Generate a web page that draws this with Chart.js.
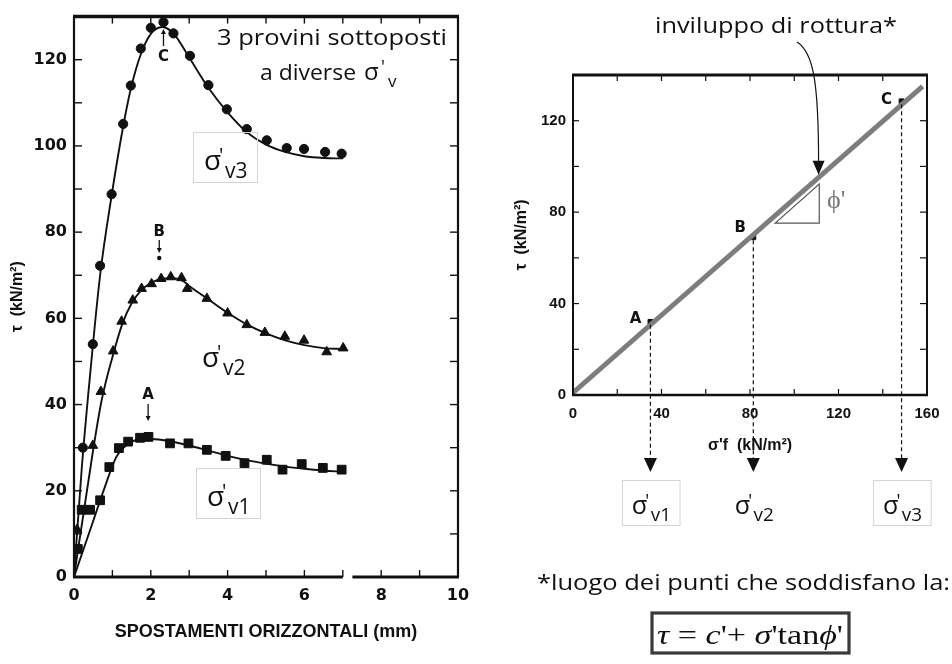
<!DOCTYPE html>
<html>
<head>
<meta charset="utf-8">
<script src="https://cdn.jsdelivr.net/npm/chart.js@4.4.1/dist/chart.umd.min.js"></script>
<style>
  html, body { margin: 0; padding: 0; background: #fff; }
  #wrap { position: relative; width: 952px; height: 664px; overflow: hidden; background: #fff; }
  canvas { position: absolute; top: 0; }
  #shearChart { left: 0; }
  #envChart { left: 480px; }
</style>
</head>
<body>
<div id="wrap">
  <canvas id="shearChart" width="480" height="664"></canvas>
  <canvas id="envChart" width="472" height="664"></canvas>
</div>
<script>
// ---- left chart: tau vs horizontal displacement (mm), three specimens ----
// measured points
const v3DispX = [0.23, 0.49, 0.68, 0.98, 1.28, 1.48, 1.74, 2.0, 2.33, 2.59, 3.02, 3.5, 3.98, 4.5, 5.02, 5.54, 5.99, 6.54, 6.97];
const v3Tau   = [30, 54, 72.2, 88.8, 105.1, 114, 122.6, 127.4, 128.7, 126.1, 120.9, 114.1, 108.5, 103.9, 101.3, 99.5, 99.3, 98.6, 98.2];
const v2DispX = [0.08, 0.49, 0.7, 1.02, 1.24, 1.53, 1.76, 2.02, 2.27, 2.52, 2.8, 2.95, 3.46, 4.0, 4.5, 4.97, 5.49, 5.99, 6.58, 7.01];
const v2Tau   = [11, 30.5, 43, 52.4, 59.3, 64.2, 66.9, 68, 69.2, 69.6, 69.4, 66.9, 64.6, 61.2, 58.5, 56.7, 55.8, 54.9, 52.2, 53.1];
const v1DispX = [0.1, 0.2, 0.42, 0.68, 0.92, 1.17, 1.41, 1.72, 1.94, 2.5, 2.98, 3.46, 3.95, 4.44, 5.02, 5.43, 5.93, 6.48, 6.97];
const v1Tau   = [6.5, 15.6, 15.6, 17.8, 25.5, 29.9, 31.4, 32.3, 32.5, 31, 31, 29.5, 28.1, 26.4, 27.2, 24.9, 26.2, 25.3, 24.9];
// fitted curves
const v3CurveX = [0, 0.2, 0.42, 0.68, 0.98, 1.28, 1.5, 1.75, 2.0, 2.3, 2.6, 3.0, 3.5, 4.0, 4.5, 5.0, 5.5, 6.0, 6.5, 7.0];
const v3CurveY = [0, 25, 47, 70, 88.5, 104.5, 114, 121.5, 126, 127.6, 126, 120.5, 113.5, 107.8, 103.2, 100.3, 98.6, 97.6, 97.2, 97.1];
const v2CurveX = [0, 0.49, 0.72, 1.0, 1.25, 1.5, 1.75, 2.0, 2.3, 2.6, 2.85, 3.0, 3.5, 4.0, 4.5, 5.0, 5.5, 6.0, 6.5, 7.0];
const v2CurveY = [0, 29, 41, 51, 58.5, 63.5, 66.5, 68.2, 69.2, 69.3, 68.6, 67.5, 64.4, 61.3, 58.6, 56.5, 54.9, 53.8, 53.1, 52.9];
const v1CurveX = [0, 0.5, 0.8, 1.1, 1.4, 1.7, 2.0, 2.5, 3.0, 3.5, 4.0, 4.5, 5.0, 5.5, 6.0, 6.5, 7.0];
const v1CurveY = [0, 13, 20.8, 27.8, 30.8, 31.9, 32, 31.5, 30.5, 29.3, 28.1, 27.1, 26.3, 25.6, 25.1, 24.7, 24.4];
const peakLabels = ['A', 'B', 'C'];
const peakDispX  = [1.93, 2.22, 2.33];

// ---- right chart: failure envelope ----
const envSigma = [0, 158];
const envTau   = [1, 135];
const peakSigma = [35, 81.5, 148.5];
const peakTau   = [32, 69, 128.5];

const ink = '#111';
const handFont = '"Open Sans", "DejaVu Sans", sans-serif';
const zip = (xs, ys) => xs.map((x, i) => ({ x, y: ys[i] }));

function seg(ctx, x1, y1, x2, y2) {
  ctx.beginPath(); ctx.moveTo(x1, y1); ctx.lineTo(x2, y2); ctx.stroke();
}
function tri(ctx, x, y, w, h) { // tip at x,y ; h>0 points down
  ctx.beginPath(); ctx.moveTo(x - w / 2, y - h); ctx.lineTo(x + w / 2, y - h); ctx.lineTo(x, y); ctx.closePath(); ctx.fill();
}
function fitText(ctx, text, x, y, width, font) {
  ctx.save();
  ctx.font = font;
  const w = ctx.measureText(text).width;
  ctx.translate(x, y);
  ctx.scale(width / w, 1);
  ctx.textAlign = 'left';
  ctx.textBaseline = 'alphabetic';
  ctx.fillText(text, 0, 0);
  ctx.restore();
}
// sigma' with subscript, optional light box
function sigmaLabel(ctx, left, top, sub, k, boxed) {
  ctx.save();
  if (boxed) {
    ctx.strokeStyle = '#d4d4d4'; ctx.lineWidth = 1;
    ctx.strokeRect(left + 0.5, top + 0.5, 64 * k, 50 * k);
  }
  ctx.fillStyle = ink;
  ctx.textAlign = 'left'; ctx.textBaseline = 'alphabetic';
  ctx.font = `${28 * k}px ${handFont}`;
  ctx.fillText('σ', left + 11 * k, top + 38 * k);
  ctx.font = `${20 * k}px ${handFont}`;
  ctx.fillText("'", left + 26 * k, top + 30 * k);
  ctx.font = `${21 * k}px ${handFont}`;
  ctx.fillText(sub, left + 32 * k, top + 46 * k);
  ctx.restore();
}

const leftDecor = {
  id: 'leftDecor',
  afterDraw(chart) {
    const { ctx, chartArea: a, scales: { x, y } } = chart;
    ctx.save();
    ctx.strokeStyle = ink; ctx.fillStyle = ink;
    ctx.lineWidth = 1.4;
    for (let v = 1; v < 10; v++) {
      const px = x.getPixelForValue(v);
      seg(ctx, px, a.bottom, px, a.bottom - 7);
      seg(ctx, px, a.top, px, a.top + 7);
    }
    for (let v = 10; v < 130; v += 10) {
      const py = y.getPixelForValue(v);
      seg(ctx, a.left, py, a.left + 8, py);
      seg(ctx, a.right, py, a.right - 8, py);
    }
    ctx.lineWidth = 3.5; seg(ctx, a.left - 1, a.top, a.right + 1, a.top);
    ctx.lineWidth = 2.2;
    seg(ctx, a.left, a.top, a.left, a.bottom);
    seg(ctx, a.right, a.top, a.right, a.bottom);
    ctx.lineWidth = 2.8;
    seg(ctx, a.left - 1, a.bottom, x.getPixelForValue(7.0), a.bottom);
    seg(ctx, x.getPixelForValue(7.25), a.bottom, a.right + 1, a.bottom);

    // peak markers A, B, C
    ctx.font = `bold 15px "DejaVu Sans", sans-serif`;
    ctx.textAlign = 'center'; ctx.textBaseline = 'middle';
    ctx.lineWidth = 1.3;
    let px = x.getPixelForValue(peakDispX[2]);
    ctx.fillText(peakLabels[2], px, 57);
    seg(ctx, px, 46, px, 33); tri(ctx, px, 29, 5, -5);
    px = x.getPixelForValue(peakDispX[1]);
    ctx.fillText(peakLabels[1], px, 232);
    seg(ctx, px, 240, px, 250); tri(ctx, px, 253, 5, 5);
    ctx.beginPath(); ctx.arc(px, 258, 2.2, 0, Math.PI * 2); ctx.fill();
    px = x.getPixelForValue(peakDispX[0]);
    ctx.fillText(peakLabels[0], px, 395);
    seg(ctx, px, 404, px, 417); tri(ctx, px, 421, 5, 5);

    // annotations
    fitText(ctx, '3 provini sottoposti', 217, 45, 230, `22px ${handFont}`);
    fitText(ctx, 'a diverse', 260, 80, 96, `22px ${handFont}`);
    ctx.textAlign = 'left'; ctx.textBaseline = 'alphabetic';
    ctx.font = `24px ${handFont}`; ctx.fillText('σ', 364, 80);
    ctx.font = `18px ${handFont}`; ctx.fillText("'", 381, 73);
    ctx.font = `17px ${handFont}`; ctx.fillText('v', 388, 87);

    sigmaLabel(ctx, 193, 132, 'v3', 1, true);
    sigmaLabel(ctx, 191, 329, 'v2', 1, false);
    sigmaLabel(ctx, 196, 468, 'v1', 1, true);
    ctx.restore();
  }
};

new Chart(document.getElementById('shearChart'), {
  type: 'scatter',
  data: {
    datasets: [
      { data: zip(v3CurveX, v3CurveY), showLine: true, pointRadius: 0, borderColor: ink, borderWidth: 1.9, cubicInterpolationMode: 'monotone' },
      { data: zip(v2CurveX, v2CurveY), showLine: true, pointRadius: 0, borderColor: ink, borderWidth: 1.9, cubicInterpolationMode: 'monotone' },
      { data: zip(v1CurveX, v1CurveY), showLine: true, pointRadius: 0, borderColor: ink, borderWidth: 1.9, cubicInterpolationMode: 'monotone' },
      { data: zip(v3DispX, v3Tau), pointStyle: 'circle', pointRadius: 4.6, backgroundColor: ink, borderColor: ink },
      { data: zip(v2DispX, v2Tau), pointStyle: 'triangle', pointRadius: 5.6, backgroundColor: ink, borderColor: ink },
      { data: zip(v1DispX, v1Tau), pointStyle: 'rect', pointRadius: 6.2, backgroundColor: ink, borderColor: ink }
    ]
  },
  options: {
    responsive: false,
    animation: false,
    layout: { padding: { left: 0, right: 22, top: 9, bottom: 0 } },
    plugins: { legend: { display: false }, tooltip: { enabled: false } },
    scales: {
      x: {
        type: 'linear', min: 0, max: 10,
        afterFit: s => { s.height = 87; },
        grid: { display: false, drawTicks: false }, border: { display: false },
        ticks: { stepSize: 2, padding: 9, color: ink, font: { family: '"DejaVu Sans"', size: 16, weight: 'bold' } },
        title: { display: true, text: 'SPOSTAMENTI ORIZZONTALI (mm)', color: ink,
                 font: { family: '"Liberation Sans"', size: 18, weight: 'bold' }, padding: { top: 0, bottom: 21 } }
      },
      y: {
        min: 0, max: 130,
        afterFit: s => { s.width = 74; },
        grid: { display: false, drawTicks: false }, border: { display: false },
        ticks: { stepSize: 20, includeBounds: false, padding: 7, color: ink,
                 font: { family: '"DejaVu Sans"', size: 16, weight: 'bold' },
                 callback: v => (v % 20 === 0 ? v : '') },
        title: { display: true, text: 'τ  (kN/m²)', color: ink,
                 font: { family: '"Liberation Sans"', size: 16, weight: 'bold' }, padding: { top: 8, bottom: 0 } }
      }
    }
  },
  plugins: [leftDecor]
});

const envDecor = {
  id: 'envDecor',
  afterDraw(chart) {
    const { ctx, chartArea: a, scales: { x, y } } = chart;
    ctx.save();
    ctx.strokeStyle = ink; ctx.fillStyle = ink;
    ctx.lineWidth = 1.2;
    for (let v = 20; v < 160; v += 20) {
      const px = x.getPixelForValue(v);
      seg(ctx, px, a.bottom, px, a.bottom - 6);
      seg(ctx, px, a.top, px, a.top + 6);
    }
    for (let v = 20; v < 140; v += 20) {
      const py = y.getPixelForValue(v);
      seg(ctx, a.left, py, a.left + 6, py);
      seg(ctx, a.right, py, a.right - 7, py);
    }
    ctx.lineWidth = 3.2; seg(ctx, a.left - 1, a.top, a.right + 1, a.top);
    ctx.lineWidth = 2;
    seg(ctx, a.left, a.top, a.left, a.bottom);
    seg(ctx, a.right, a.top, a.right, a.bottom);
    ctx.lineWidth = 2.4; seg(ctx, a.left - 1, a.bottom, a.right + 1, a.bottom);

    // phi' triangle under the envelope
    ctx.strokeStyle = '#555'; ctx.lineWidth = 1.2;
    ctx.beginPath();
    ctx.moveTo(x.getPixelForValue(91.4), y.getPixelForValue(75.2));
    ctx.lineTo(x.getPixelForValue(111.3), y.getPixelForValue(75.2));
    ctx.lineTo(x.getPixelForValue(111.3), y.getPixelForValue(92.3));
    ctx.closePath(); ctx.stroke();
    ctx.fillStyle = '#777';
    ctx.font = '26px "Liberation Serif", serif';
    ctx.textAlign = 'left'; ctx.textBaseline = 'alphabetic';
    ctx.fillText("ϕ'", 347, 208);

    // peak labels, dashed drops, arrows, sigma boxes
    ctx.fillStyle = ink; ctx.strokeStyle = ink;
    const dx = [-15, -13, -15], dy = [-3, -9, -1];
    const subs = ['v1', 'v2', 'v3'];
    ctx.font = 'bold 15px "DejaVu Sans", sans-serif';
    peakSigma.forEach((s, i) => {
      const px = x.getPixelForValue(s), py = y.getPixelForValue(peakTau[i]);
      ctx.textAlign = 'center'; ctx.textBaseline = 'middle';
      ctx.fillText(peakLabels[i], px + dx[i], py + dy[i]);
      ctx.save();
      ctx.setLineDash([4, 3]); ctx.lineWidth = 1.2;
      seg(ctx, px, py + 3, px, 459);
      ctx.restore();
      tri(ctx, px, 472, 13, 14);
      sigmaLabel(ctx, px - 28.5, 480, subs[i], 0.9, i !== 1);
    });

    // failure envelope caption with curved arrow
    fitText(ctx, 'inviluppo di rottura*', 175, 33, 242, `22px ${handFont}`);
    const tipX = x.getPixelForValue(111), tipY = y.getPixelForValue(95) - 3;
    ctx.lineWidth = 1.2;
    ctx.beginPath();
    ctx.moveTo(317, 42);
    ctx.bezierCurveTo(333, 52, tipX, 80, tipX, tipY - 12);
    ctx.stroke();
    tri(ctx, tipX, tipY, 12, 14);

    fitText(ctx, '*luogo dei punti che soddisfano la:', 57, 590, 413, `22px ${handFont}`);

    // formula box
    ctx.strokeStyle = '#3a3a3a'; ctx.lineWidth = 3.2;
    ctx.strokeRect(172, 613, 197, 40);
    const parts = [['τ', 'italic '], [' = ', ''], ['c', 'italic '], ["'+ ", ''], ['σ', 'italic '], ["'tan", ''], ['ϕ', 'italic '], ["'", '']];
    const fsz = 27;
    let total = 0;
    parts.forEach(p => { ctx.font = `${p[1]}${fsz}px "Liberation Serif", serif`; total += ctx.measureText(p[0]).width; });
    const k = 186 / total;
    ctx.save();
    ctx.translate(177, 644); ctx.scale(k, 1);
    ctx.fillStyle = ink; ctx.textAlign = 'left'; ctx.textBaseline = 'alphabetic';
    let cx = 0;
    parts.forEach(p => {
      ctx.font = `${p[1]}${fsz}px "Liberation Serif", serif`;
      ctx.fillText(p[0], cx, 0);
      cx += ctx.measureText(p[0]).width;
    });
    ctx.restore();
    ctx.restore();
  }
};

new Chart(document.getElementById('envChart'), {
  type: 'scatter',
  data: {
    datasets: [
      { data: zip(envSigma, envTau), showLine: true, pointRadius: 0, borderColor: '#7d7d7d', borderWidth: 5 },
      { data: zip(peakSigma, peakTau), pointStyle: 'rect', pointRadius: 3.4, backgroundColor: ink, borderColor: ink }
    ]
  },
  options: {
    responsive: false,
    animation: false,
    layout: { padding: { left: 0, right: 25, top: 75, bottom: 0 } },
    plugins: { legend: { display: false }, tooltip: { enabled: false } },
    scales: {
      x: {
        type: 'linear', min: 0, max: 160,
        afterFit: s => { s.height = 269; },
        grid: { display: false, drawTicks: false }, border: { display: false },
        ticks: { stepSize: 40, padding: 10, color: ink, font: { family: '"Liberation Sans"', size: 15, weight: 'bold' } },
        title: { display: true, text: "σ'f  (kN/m²)", color: ink,
                 font: { family: '"Liberation Sans"', size: 16, weight: 'bold' }, padding: { top: 0, bottom: 209 } }
      },
      y: {
        min: 0, max: 140,
        afterFit: s => { s.width = 93; },
        grid: { display: false, drawTicks: false }, border: { display: false },
        ticks: { stepSize: 40, includeBounds: false, padding: 7, color: ink,
                 font: { family: '"Liberation Sans"', size: 15, weight: 'bold' },
                 callback: v => (v % 40 === 0 ? v : '') },
        title: { display: true, text: 'τ  (kN/m²)', color: ink,
                 font: { family: '"Liberation Sans"', size: 16, weight: 'bold' }, padding: { top: 32, bottom: 0 } }
      }
    }
  },
  plugins: [envDecor]
});
</script>
</body>
</html>
